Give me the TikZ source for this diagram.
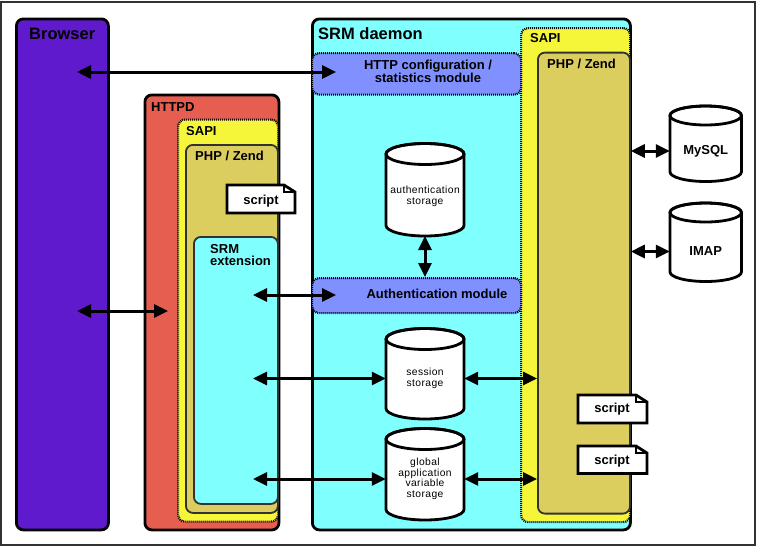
\documentclass[tikz,border=0pt]{standalone}
\usepackage{fontspec}
\setmainfont{Liberation Sans}
\usetikzlibrary{arrows.meta}
\definecolor{browsercol}{RGB}{95,26,205}
\definecolor{httpdcol}{RGB}{229,94,80}
\definecolor{sapicol}{RGB}{245,245,58}
\definecolor{phpcol}{RGB}{220,205,95}
\definecolor{srmcol}{RGB}{128,255,255}
\definecolor{modcol}{RGB}{128,144,255}
\definecolor{edgegray}{RGB}{50,50,50}
\tikzset{
  bigbox/.style={draw=black, line width=2.8pt, rounded corners=7pt, inner sep=0pt, anchor=north west},
  sapibox/.style={draw=black, line width=2.2pt, dash pattern=on 1pt off 1pt, rounded corners=7pt, fill=sapicol, inner sep=0pt, anchor=north west},
  phpbox/.style={draw=edgegray, line width=1.8pt, rounded corners=7pt, fill=phpcol, inner sep=0pt, anchor=north west},
  extbox/.style={draw=edgegray, line width=1.8pt, rounded corners=7pt, fill=srmcol, inner sep=0pt, anchor=north west},
  modbox/.style={draw=black, line width=2.2pt, dash pattern=on 1pt off 1pt, rounded corners=7pt, fill=modcol, inner sep=0pt, anchor=north west},
  bigtitle/.style={font=\fontsize{16.5}{18}\selectfont\bfseries, inner sep=0pt, anchor=base west},
  boxtitle/.style={font=\fontsize{13}{14}\selectfont\bfseries, inner sep=0pt},
  storetext/.style={font=\fontsize{10.3}{10.5}\selectfont\addfontfeature{LetterSpace=4}, inner sep=0pt, align=center, text width=78pt},
  biarrow/.style={{Triangle[length=14pt,width=13pt]}-{Triangle[length=14pt,width=13pt]}, line width=3pt},
}
\newcommand{\cylshape}[5]{% cx, rx, ytop, ybot, ry
  \filldraw[fill=white, line width=2.8pt] ({#1-#2},{#3+#5}) -- ({#1-#2},{#4-#5})
    arc[start angle=180, end angle=0, x radius=#2, y radius=#5] -- ({#1+#2},{#3+#5})
    arc[start angle=0, end angle=-180, x radius=#2, y radius=#5] -- cycle;
  \draw[line width=2.8pt] (#1,{#3+#5}) ellipse[x radius=#2, y radius=#5];
}
\newcommand{\docshape}[4]{% x1, y1, x2, y2
  \filldraw[fill=white, line width=2.8pt] (#1,#2) -- ({#3-11},#2) -- (#3,{#2+7}) -- (#3,#4) -- (#1,#4) -- cycle;
  \draw[line width=1.2pt] ({#3-11},#2) -- ({#3-11},{#2+7}) -- (#3,{#2+7});
}
\begin{document}
\begin{tikzpicture}[x=1pt,y=-1pt]
\useasboundingbox (0,0) rectangle (757,547);
\draw[line width=1.5pt, edgegray] (1,2) rectangle (755,545);

% Browser
\node[bigbox, fill=browsercol, minimum width=92pt, minimum height=511pt] (browser) at (15,17.5) {};
\node[bigtitle] (browsert) at (29,39) {Browser};

% HTTPD stack
\node[bigbox, fill=httpdcol, minimum width=134pt, minimum height=435pt] (httpd) at (143.5,93.5) {};
\node[boxtitle, anchor=base west] (httpdt) at (151,111) {HTTPD};
\node[sapibox, minimum width=100pt, minimum height=402pt] (sapiL) at (177,118.5) {};
\node[boxtitle, anchor=base west] (sapiLt) at (186,135.7) {SAPI};
\node[phpbox, minimum width=92pt, minimum height=368pt] (phpL) at (185,144) {};
\node[boxtitle, anchor=base west] (phpLt) at (195,160) {PHP / Zend};
\node[extbox, minimum width=84pt, minimum height=267pt] (ext) at (193,236) {};
\node[boxtitle, anchor=base west, align=left] (extt) at (210,265.7) {SRM\\[-1.3pt]extension};

% left script
\docshape{227}{185}{295}{213}
\node[boxtitle, anchor=base] (scriptL) at (261,204) {script};

% SRM daemon
\node[bigbox, fill=srmcol, minimum width=318pt, minimum height=511pt] (srm) at (311,17.5) {};
\node[bigtitle] (srmt) at (318,39.3) {SRM daemon};
\node[sapibox, minimum width=109pt, minimum height=494pt] (sapiR) at (520,27) {};
\node[boxtitle, anchor=base west] (sapiRt) at (530,42.7) {SAPI};
\node[phpbox, minimum width=92pt, minimum height=461pt] (phpR) at (537,51.7) {};
\node[boxtitle, anchor=base west] (phpRt) at (547,68.3) {PHP / Zend};
\node[modbox, minimum width=209pt, minimum height=41.5pt] (cfg) at (311,52) {};
\node[boxtitle, align=center, anchor=base] (cfgt) at (428,82.7) {HTTP configuration /\\[-0.8pt]statistics module};
\node[modbox, minimum width=209pt, minimum height=35pt] (authmod) at (311,277) {};
\node[boxtitle, anchor=base] (authmodt) at (437,298.3) {Authentication module};

% storages
\cylshape{425}{39}{143.5}{236}{10.5}
\node[storetext] (auths) at (425,196.4) {authentication\\storage};
\cylshape{425}{39}{328.5}{419}{10.5}
\node[storetext] (sess) at (425,378.5) {session\\storage};
\cylshape{425}{39}{428.5}{520}{10.5}
\node[storetext] (glob) at (425,479) {global\\application\\variable\\storage};

% external storages
\cylshape{705.7}{35.7}{106}{181.5}{9.5}
\node[boxtitle, minimum width=71.4pt] (mysql) at (705.7,151) {MySQL};
\cylshape{705.7}{35.7}{203}{281.5}{9.5}
\node[boxtitle, minimum width=71.4pt] (imap) at (705.7,251.5) {IMAP};

% right scripts
\docshape{578}{395}{647}{423}
\node[boxtitle, anchor=base] (scriptR1) at (612,412.7) {script};
\docshape{578}{446}{647}{473.5}
\node[boxtitle, anchor=base] (scriptR2) at (612,464) {script};

% connectors
\coordinate (brTop) at (77,72);
\coordinate (cfgIn) at (336,72);
\coordinate (brMid) at (77,311);
\coordinate (httpdIn) at (168,311);
\coordinate (extA) at (253,295);
\coordinate (authIn) at (336,295);
\coordinate (extB) at (253,378.5);
\coordinate (extC) at (253,479);
\coordinate (authsBot) at (425,236);

\draw[biarrow] (brTop) -- (cfgIn);
\draw[biarrow] (brMid) -- (httpdIn);
\draw[biarrow] (extA) -- (authIn);
\draw[biarrow] (extB) -- (sess.west);
\draw[biarrow] (extC) -- (glob.west);
\draw[biarrow] (sess.east) -- (phpR.west |- sess.east);
\draw[biarrow] (glob.east) -- (phpR.west |- glob.east);
\draw[biarrow] (authsBot) -- (authsBot |- authmod.north);
\draw[biarrow] (phpR.east |- mysql.west) -- (mysql.west);
\draw[biarrow] (phpR.east |- imap.west) -- (imap.west);
\end{tikzpicture}
\end{document}
